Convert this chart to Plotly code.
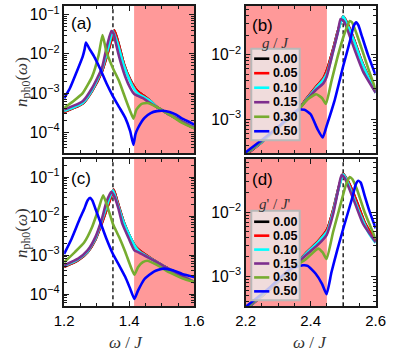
import plotly.graph_objects as go

W, H = 399, 354

G_LABELS = ["0.00", "0.05", "0.10", "0.15", "0.30", "0.50"]
COLORS = ["#000000", "#ff0000", "#00ffff", "#7e2f8e", "#77ac30", "#0000ff"]

# ---- panel (a): omega/J around 1.35, g/J ----
A_RED_X = [1.200, 1.257, 1.286, 1.316, 1.338, 1.354, 1.367, 1.383, 1.403, 1.419, 1.432, 1.447, 1.466, 1.485, 1.524, 1.563, 1.600]
A_RED_Y = [3.3e-4, 5.4e-4, 1.15e-3, 3.55e-3, 1.38e-2, 4.0e-2, 1.86e-2, 5.75e-3, 2.2e-3, 1.29e-3, 1.0e-3, 8.3e-4, 6.2e-4, 4.4e-4, 2.82e-4, 1.86e-4, 1.29e-4]
A_CYAN_X = [1.200, 1.257, 1.286, 1.316, 1.335, 1.350, 1.364, 1.383, 1.403, 1.419, 1.432, 1.447, 1.466, 1.485, 1.524, 1.563, 1.600]
A_CYAN_Y = [3.47e-4, 5.6e-4, 1.2e-3, 3.9e-3, 1.38e-2, 3.8e-2, 1.86e-2, 5.25e-3, 2.0e-3, 1.15e-3, 9.1e-4, 7.8e-4, 6.2e-4, 4.4e-4, 2.82e-4, 1.86e-4, 1.29e-4]
A_PURPLE_X = [1.200, 1.257, 1.286, 1.316, 1.330, 1.345, 1.352, 1.359, 1.369, 1.388, 1.403, 1.416, 1.427, 1.442, 1.456, 1.485, 1.524, 1.563, 1.600]
A_PURPLE_Y = [3.8e-4, 6.2e-4, 1.35e-3, 4.3e-3, 1.38e-2, 3.8e-2, 3.3e-2, 1.86e-2, 8.5e-3, 2.6e-3, 1.35e-3, 9.3e-4, 8.5e-4, 7.4e-4, 6.2e-4, 4.4e-4, 2.82e-4, 1.86e-4, 1.29e-4]
A_GREEN_X = [1.200, 1.228, 1.257, 1.286, 1.306, 1.318, 1.330, 1.350, 1.369, 1.388, 1.403, 1.413, 1.422, 1.437, 1.456, 1.485, 1.524, 1.563, 1.600]
A_GREEN_Y = [4.2e-4, 6.2e-4, 1.0e-3, 2.63e-3, 9.3e-3, 3.0e-2, 1.12e-2, 4.3e-3, 2.0e-3, 7.4e-4, 3.47e-4, 2.24e-4, 3.8e-4, 5.25e-4, 5.6e-4, 4.4e-4, 2.82e-4, 1.74e-4, 1.26e-4]
A_BLUE_X = [1.200, 1.218, 1.237, 1.257, 1.263, 1.267, 1.277, 1.291, 1.311, 1.330, 1.350, 1.369, 1.388, 1.403, 1.413, 1.419, 1.427, 1.447, 1.466, 1.485, 1.505, 1.524, 1.544, 1.563, 1.583, 1.600]
A_BLUE_Y = [7.4e-4, 1.35e-3, 3.24e-3, 8.5e-3, 1.32e-2, 1.95e-2, 1.38e-2, 8.9e-3, 4.1e-3, 1.78e-3, 8.3e-4, 4.4e-4, 2.34e-4, 1.07e-4, 4.8e-5, 8.9e-5, 1.29e-4, 2.34e-4, 3.1e-4, 3.47e-4, 3.55e-4, 3.3e-4, 2.82e-4, 2.24e-4, 1.86e-4, 1.58e-4]

# ---- panel (b): omega/J around 2.5, g/J ----
B_RED_X = [2.200, 2.250, 2.308, 2.362, 2.386, 2.415, 2.439, 2.451, 2.469, 2.483, 2.500, 2.512, 2.532, 2.556, 2.580, 2.600]
B_RED_Y = [2.82e-4, 4.5e-4, 8.1e-4, 1.41e-3, 2.04e-3, 3.1e-3, 4.3e-3, 5.9e-3, 1.2e-2, 2.24e-2, 3.9e-2, 3.1e-2, 1.78e-2, 8.1e-3, 4.3e-3, 2.7e-3]
B_CYAN_X = [2.200, 2.250, 2.308, 2.362, 2.386, 2.415, 2.439, 2.451, 2.469, 2.483, 2.500, 2.512, 2.532, 2.556, 2.580, 2.600]
B_CYAN_Y = [2.9e-4, 4.5e-4, 8.1e-4, 1.41e-3, 2.0e-3, 3.0e-3, 4.1e-3, 5.25e-3, 1.12e-2, 2.14e-2, 3.9e-2, 2.95e-2, 1.7e-2, 7.9e-3, 4.2e-3, 2.57e-3]
B_PURPLE_X = [2.200, 2.250, 2.308, 2.362, 2.386, 2.415, 2.439, 2.449, 2.469, 2.483, 2.492, 2.503, 2.517, 2.537, 2.561, 2.600]
B_PURPLE_Y = [2.9e-4, 4.6e-4, 8.1e-4, 1.41e-3, 1.95e-3, 2.82e-3, 3.6e-3, 4.5e-3, 1.12e-2, 2.14e-2, 3.55e-2, 3.2e-2, 2.14e-2, 1.12e-2, 5.5e-3, 2.57e-3]
B_GREEN_X = [2.200, 2.250, 2.308, 2.362, 2.391, 2.417, 2.435, 2.447, 2.464, 2.483, 2.503, 2.512, 2.520, 2.528, 2.542, 2.561, 2.580, 2.600]
B_GREEN_Y = [2.95e-4, 4.7e-4, 8.1e-4, 1.41e-3, 2.04e-3, 2.45e-3, 2.14e-3, 1.74e-3, 3.9e-3, 9.3e-3, 2.04e-2, 2.7e-2, 3.3e-2, 3.1e-2, 2.04e-2, 1.07e-2, 5.5e-3, 2.9e-3]
B_BLUE_X = [2.200, 2.250, 2.308, 2.362, 2.381, 2.400, 2.421, 2.437, 2.449, 2.473, 2.500, 2.522, 2.532, 2.540, 2.547, 2.556, 2.576, 2.600]
B_BLUE_Y = [3.1e-4, 4.8e-4, 8.3e-4, 1.41e-3, 1.41e-3, 1.2e-3, 7.1e-4, 5.25e-4, 7.9e-4, 1.91e-3, 6.6e-3, 1.7e-2, 2.75e-2, 3.16e-2, 2.82e-2, 2.04e-2, 1.0e-2, 4.8e-3]

# ---- panel (c): omega/J around 1.35, g'/J' ----
C_RED_X = [1.200, 1.243, 1.272, 1.296, 1.319, 1.340, 1.352, 1.364, 1.383, 1.403, 1.419, 1.432, 1.447, 1.485, 1.524, 1.563, 1.600]
C_RED_Y = [5.0e-4, 7.4e-4, 1.2e-3, 2.5e-3, 7.8e-3, 2.5e-2, 4.8e-2, 2.3e-2, 7.1e-3, 2.9e-3, 1.66e-3, 1.32e-3, 1.07e-3, 6.6e-4, 4.3e-4, 2.9e-4, 2.04e-4]
C_CYAN_X = [1.200, 1.243, 1.272, 1.296, 1.316, 1.335, 1.350, 1.361, 1.379, 1.398, 1.419, 1.432, 1.447, 1.485, 1.524, 1.563, 1.600]
C_CYAN_Y = [5.25e-4, 7.8e-4, 1.23e-3, 2.63e-3, 7.8e-3, 2.3e-2, 4.6e-2, 2.5e-2, 8.5e-3, 3.55e-3, 1.62e-3, 1.23e-3, 1.02e-3, 6.6e-4, 4.3e-4, 2.9e-4, 2.04e-4]
C_PURPLE_X = [1.200, 1.243, 1.272, 1.296, 1.316, 1.330, 1.345, 1.355, 1.367, 1.379, 1.398, 1.416, 1.427, 1.447, 1.485, 1.524, 1.563, 1.600]
C_PURPLE_Y = [5.5e-4, 8.1e-4, 1.32e-3, 2.9e-3, 8.5e-3, 2.3e-2, 4.2e-2, 3.1e-2, 1.55e-2, 6.3e-3, 2.75e-3, 1.32e-3, 1.2e-3, 9.8e-4, 6.6e-4, 4.3e-4, 2.9e-4, 2.04e-4]
C_GREEN_X = [1.200, 1.233, 1.262, 1.286, 1.306, 1.320, 1.335, 1.350, 1.369, 1.388, 1.403, 1.416, 1.427, 1.442, 1.456, 1.485, 1.524, 1.563, 1.600]
C_GREEN_Y = [6.6e-4, 1.2e-3, 2.14e-3, 5.25e-3, 1.55e-2, 3.4e-2, 1.55e-2, 6.3e-3, 2.9e-3, 1.2e-3, 5.5e-4, 3.16e-4, 4.9e-4, 6.6e-4, 7.2e-4, 5.6e-4, 3.6e-4, 2.57e-4, 2.04e-4]
C_BLUE_X = [1.200, 1.223, 1.248, 1.262, 1.272, 1.280, 1.287, 1.297, 1.311, 1.330, 1.350, 1.369, 1.388, 1.403, 1.416, 1.427, 1.447, 1.476, 1.505, 1.534, 1.563, 1.600]
C_BLUE_Y = [1.07e-3, 2.63e-3, 8.5e-3, 1.55e-2, 2.5e-2, 2.95e-2, 2.5e-2, 1.48e-2, 7.1e-3, 2.63e-3, 1.07e-3, 5.5e-4, 2.75e-4, 1.38e-4, 7.6e-5, 1.23e-4, 2.45e-4, 3.8e-4, 4.5e-4, 4.1e-4, 3.3e-4, 2.75e-4]

# ---- panel (d): omega/J around 2.5, g'/J' ----
D_RED_X = [2.200, 2.269, 2.337, 2.386, 2.425, 2.451, 2.469, 2.483, 2.500, 2.517, 2.542, 2.566, 2.600]
D_RED_Y = [3.0e-4, 5.9e-4, 1.23e-3, 2.3e-3, 3.6e-3, 5.4e-3, 1.07e-2, 2.1e-2, 4.0e-2, 2.9e-2, 1.45e-2, 6.9e-3, 3.5e-3]
D_CYAN_X = [2.200, 2.269, 2.337, 2.386, 2.425, 2.451, 2.469, 2.483, 2.500, 2.512, 2.532, 2.556, 2.580, 2.600]
D_CYAN_Y = [3.0e-4, 6.0e-4, 1.23e-3, 2.24e-3, 3.5e-3, 5.0e-3, 1.0e-2, 2.04e-2, 3.9e-2, 3.1e-2, 1.7e-2, 8.3e-3, 4.6e-3, 3.3e-3]
D_PURPLE_X = [2.200, 2.269, 2.337, 2.386, 2.425, 2.449, 2.469, 2.483, 2.495, 2.505, 2.517, 2.537, 2.561, 2.600]
D_PURPLE_Y = [3.1e-4, 6.0e-4, 1.23e-3, 2.14e-3, 3.2e-3, 4.4e-3, 9.3e-3, 2.04e-2, 3.8e-2, 3.4e-2, 2.45e-2, 1.35e-2, 6.6e-3, 3.4e-3]
D_GREEN_X = [2.200, 2.269, 2.337, 2.386, 2.423, 2.437, 2.449, 2.469, 2.488, 2.508, 2.515, 2.520, 2.528, 2.542, 2.566, 2.600]
D_GREEN_Y = [3.16e-4, 6.2e-4, 1.26e-3, 1.86e-3, 2.7e-3, 2.35e-3, 1.86e-3, 4.9e-3, 1.12e-2, 2.63e-2, 3.2e-2, 3.55e-2, 3.3e-2, 2.3e-2, 1.0e-2, 3.8e-3]
D_BLUE_X = [2.200, 2.269, 2.337, 2.376, 2.391, 2.415, 2.435, 2.449, 2.464, 2.483, 2.503, 2.527, 2.539, 2.546, 2.554, 2.566, 2.580, 2.600]
D_BLUE_Y = [3.3e-4, 6.3e-4, 1.29e-3, 1.48e-3, 1.45e-3, 1.1e-3, 7.6e-4, 5.25e-4, 1.15e-3, 2.7e-3, 6.2e-3, 1.62e-2, 2.75e-2, 3.1e-2, 2.9e-2, 1.82e-2, 1.07e-2, 5.6e-3]

# black (g=0) sits under the red curve everywhere
PANELS = {
    "a": [(A_RED_X, A_RED_Y), (A_RED_X, A_RED_Y), (A_CYAN_X, A_CYAN_Y),
          (A_PURPLE_X, A_PURPLE_Y), (A_GREEN_X, A_GREEN_Y), (A_BLUE_X, A_BLUE_Y)],
    "b": [(B_RED_X, B_RED_Y), (B_RED_X, B_RED_Y), (B_CYAN_X, B_CYAN_Y),
          (B_PURPLE_X, B_PURPLE_Y), (B_GREEN_X, B_GREEN_Y), (B_BLUE_X, B_BLUE_Y)],
    "c": [(C_RED_X, C_RED_Y), (C_RED_X, C_RED_Y), (C_CYAN_X, C_CYAN_Y),
          (C_PURPLE_X, C_PURPLE_Y), (C_GREEN_X, C_GREEN_Y), (C_BLUE_X, C_BLUE_Y)],
    "d": [(D_RED_X, D_RED_Y), (D_RED_X, D_RED_Y), (D_CYAN_X, D_CYAN_Y),
          (D_PURPLE_X, D_PURPLE_Y), (D_GREEN_X, D_GREEN_Y), (D_BLUE_X, D_BLUE_Y)],
}
AXES = {"a": ("x", "y"), "b": ("x2", "y2"), "c": ("x3", "y3"), "d": ("x4", "y4")}

X_RANGE = {"a": [1.2, 1.6], "b": [2.2, 2.6], "c": [1.2, 1.6], "d": [2.2, 2.6]}
Y_RANGE = {"a": [-4.53, -0.78], "b": [-3.52, -1.25], "c": [-4.31, -0.54], "d": [-3.47, -1.17]}
SHADE = {"a": (1.415, 1.6), "b": (2.2, 2.45), "c": (1.415, 1.6), "d": (2.2, 2.45)}
DASH_X = {"a": 1.35, "b": 2.5, "c": 1.35, "d": 2.5}

FRAME = "#1a1a1a"
SANS = "Liberation Sans, Arial, sans-serif"
SERIF = "Liberation Serif, Times New Roman, serif"


def px(x):
    return x / W


def py(y):
    return 1 - y / H


DOM_X = {"a": [px(57), px(194)], "c": [px(57), px(194)], "b": [px(248), px(385)], "d": [px(248), px(385)]}
DOM_Y = {"a": [py(152), py(4)], "b": [py(152), py(4)], "c": [py(306), py(158)], "d": [py(306), py(158)]}

fig = go.Figure()

for key, series in PANELS.items():
    xa, ya = AXES[key]
    for (xs, ys), name, color in zip(series, G_LABELS, COLORS):
        fig.add_trace(go.Scatter(
            x=xs, y=ys, xaxis=xa, yaxis=ya, mode="lines", name=name,
            line=dict(color=color, width=2.6, shape="spline", smoothing=0.5),
            showlegend=False,
        ))

layout = dict(
    width=W, height=H,
    margin=dict(l=0, r=0, t=0, b=0),
    paper_bgcolor="white", plot_bgcolor="white",
    font=dict(family=SANS, color="black"),
    showlegend=False,
)

shapes = []
annotations = []


def note(text, x, y, size, family, color="black", **kw):
    opts = dict(text=text, x=px(x), y=py(y), xref="paper", yref="paper",
                xanchor="center", yanchor="middle", showarrow=False,
                font=dict(size=size, family=family, color=color))
    opts.update(kw)
    annotations.append(opts)


for key in PANELS:
    xa, ya = AXES[key]
    sx = "" if xa == "x" else xa[1:]
    bottom = key in ("c", "d")
    layout["xaxis" + sx] = dict(
        domain=DOM_X[key], anchor=ya, range=X_RANGE[key],
        tick0=X_RANGE[key][0], dtick=0.2,
        ticks="inside", ticklen=5, tickwidth=1.2, tickcolor=FRAME,
        minor=dict(dtick=0.05, ticks="inside", ticklen=3, tickwidth=1, tickcolor=FRAME),
        mirror="allticks", showline=True, linewidth=2, linecolor=FRAME,
        showgrid=False, zeroline=False, showticklabels=bottom,
        tickfont=dict(size=15, family=SANS, color="black"),
    )
    # power-format log labels are drawn 1.25x the tick font size
    layout["yaxis" + sx] = dict(
        domain=DOM_Y[key], anchor=xa, type="log", range=Y_RANGE[key],
        dtick=1, exponentformat="power",
        ticks="inside", ticklen=5, tickwidth=1.2, tickcolor=FRAME,
        minor=dict(ticks="inside", ticklen=3, tickwidth=1, tickcolor=FRAME),
        mirror="allticks", showline=True, linewidth=2, linecolor=FRAME,
        showgrid=False, zeroline=False,
        tickfont=dict(size=12.5, family=SANS, color="black"),
    )
    # forbidden band
    x0, x1 = SHADE[key]
    shapes.append(dict(type="rect", xref=xa, yref=ya + " domain", x0=x0, x1=x1, y0=0, y1=1,
                       fillcolor="#ff9999", line=dict(width=0), layer="below"))
    shapes.append(dict(type="line", xref=xa, yref=ya + " domain", x0=DASH_X[key], x1=DASH_X[key],
                       y0=0, y1=1, line=dict(color="#111", width=1.4, dash="4px,3px"), layer="below"))

# panel letters
for txt, x, y in [("(a)", 62, 22), ("(b)", 253, 24), ("(c)", 62, 177), ("(d)", 253, 179)]:
    note(txt, x, y, 17, SANS, xanchor="left")

# axis titles
for y in (80, 232):
    note("<i>n</i><sub>ph0</sub>(<i>ω</i>)", 13, y, 17, SERIF, "#333", textangle=-90)
for x in (122, 316):
    note("<i>ω</i> / <i>J</i>", x, 342, 17, SERIF, "#333")

# legends drawn inside (b) and (d)
LEGENDS = [
    ("<i>g</i> / <i>J</i>", 41, 47, 139, 57, 14.6),
    ("<i>g</i>' / <i>J</i>'", 203, 210, 300, 221, 14.0),
]
for title, ty, top, bot, row0, step in LEGENDS:
    shapes.append(dict(type="rect", xref="paper", yref="paper",
                       x0=px(254), x1=px(305), y0=py(bot), y1=py(top),
                       fillcolor="rgba(236,236,236,0.8)", line=dict(color="#b8b8b8", width=2),
                       layer="above"))
    note(title, 279, ty, 15, SERIF, "#333")
    for i, (name, color) in enumerate(zip(G_LABELS, COLORS)):
        yy = row0 + i * step
        shapes.append(dict(type="line", xref="paper", yref="paper",
                           x0=px(257), x1=px(273), y0=py(yy), y1=py(yy),
                           line=dict(color=color, width=2.6), layer="above"))
        note("<b>" + name + "</b>", 275, yy, 12.5, SANS, xanchor="left")

layout["shapes"] = shapes
layout["annotations"] = annotations
fig.update_layout(**layout)

# the page body keeps its default 8px margin otherwise
fig.write_html("out.html", config={"displayModeBar": False},
               post_script="document.body.style.margin = '0px';")
